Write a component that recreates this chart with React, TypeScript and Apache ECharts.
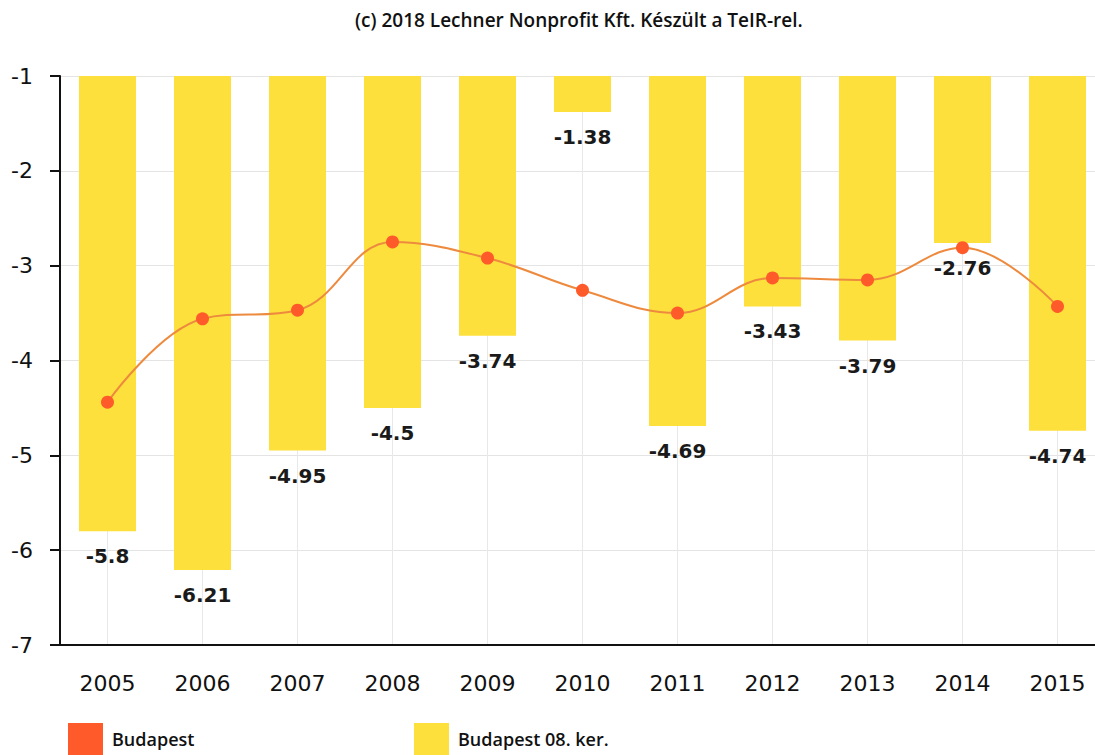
import React, { useEffect, useRef } from "react";
import * as echarts from "echarts";

const years = ["2005", "2006", "2007", "2008", "2009", "2010", "2011", "2012", "2013", "2014", "2015"];
const district = [-5.8, -6.21, -4.95, -4.5, -3.74, -1.38, -4.69, -3.43, -3.79, -2.76, -4.74];
const budapest = [-4.44, -3.56, -3.47, -2.75, -2.92, -3.26, -3.5, -3.13, -3.15, -2.81, -3.43];
const yTicks = { min: -7, max: -1, interval: 1 };
const titleText = "(c) 2018 Lechner Nonprofit Kft. Készült a TeIR-rel.";

const FONT = "DejaVu Sans, Verdana, sans-serif";
const FONT2 = "'Open Sans', sans-serif";

export default function App() {
  const ref = useRef<HTMLDivElement>(null);
  useEffect(() => {
    if (!ref.current) return;
    const chart = echarts.init(ref.current, null, { renderer: "svg" });
    chart.setOption({
      animation: false,
      backgroundColor: "#ffffff",
      title: {
        text: titleText,
        left: 350,
        top: 5,
        textStyle: { fontFamily: FONT2, fontSize: 19, fontWeight: 600, color: "#111" },
      },
      grid: { left: 60, top: 76, bottom: 110, right: -10, containLabel: false, outerBoundsMode: "none" },
      legend: [
        {
          left: 68,
          top: 723,
          padding: 0,
          itemWidth: 35,
          itemHeight: 32,
          icon: "rect",
          data: ["Budapest"],
          textStyle: { fontFamily: FONT2, fontSize: 18, fontWeight: 600, color: "#111", padding: [0, 0, 0, 4] },
        },
        {
          left: 414,
          top: 723,
          padding: 0,
          itemWidth: 35,
          itemHeight: 32,
          icon: "rect",
          data: ["Budapest 08. ker."],
          textStyle: { fontFamily: FONT2, fontSize: 18, fontWeight: 600, color: "#111", padding: [0, 0, 0, 4] },
        },
      ],
      xAxis: {
        type: "category",
        data: years,
        boundaryGap: true,
        axisLine: { lineStyle: { color: "#111", width: 2 } },
        axisTick: { alignWithLabel: true, length: 8, lineStyle: { color: "#111", width: 2 } },
        axisLabel: { fontFamily: FONT, fontSize: 22, color: "#111", margin: 27 },
        splitLine: { show: false },
      },
      yAxis: {
        type: "value",
        min: yTicks.min,
        max: yTicks.max,
        interval: yTicks.interval,
        axisLine: { show: true, lineStyle: { color: "#111", width: 2 } },
        axisTick: { show: true, length: 10, lineStyle: { color: "#111", width: 2 } },
        axisLabel: { fontFamily: FONT, fontSize: 22, color: "#111", margin: 27 },
        splitLine: { show: true, lineStyle: { color: "#e4e4e4", width: 1 } },
      },
      series: [
        {
          name: "grid-v",
          type: "line",
          data: [],
          z: 0,
          silent: true,
          markLine: {
            silent: true,
            z: 0,
            symbol: "none",
            label: { show: false },
            lineStyle: { color: "#e8e8e8", type: "solid", width: 1 },
            data: years.map((y) => ({ xAxis: y })),
          },
        },
        {
          name: "Budapest 08. ker.",
          type: "bar",
          data: district,
          barWidth: 57,
          clip: true,
          itemStyle: { color: "#FDE03C" },
          label: {
            show: true,
            position: "outside",
            distance: 15,
            fontFamily: FONT,
            fontSize: 20,
            fontWeight: "bold",
            color: "#1a1a1a",
            formatter: (p: any) => String(p.value),
          },
          z: 2,
        },
        {
          name: "Budapest",
          type: "line",
          data: budapest,
          smooth: 0.4,
          symbol: "circle",
          symbolSize: 13,
          lineStyle: { color: "#EE8A3E", width: 2 },
          itemStyle: { color: "#FF5A2A" },
          z: 3,
        },
      ],
      color: ["#cccccc", "#FDE03C", "#FF7A45"],
    });
    return () => chart.dispose();
  }, []);
  return <div ref={ref} style={{ width: 1095, height: 755, position: "absolute", left: 0, top: 0 }} />;
}
